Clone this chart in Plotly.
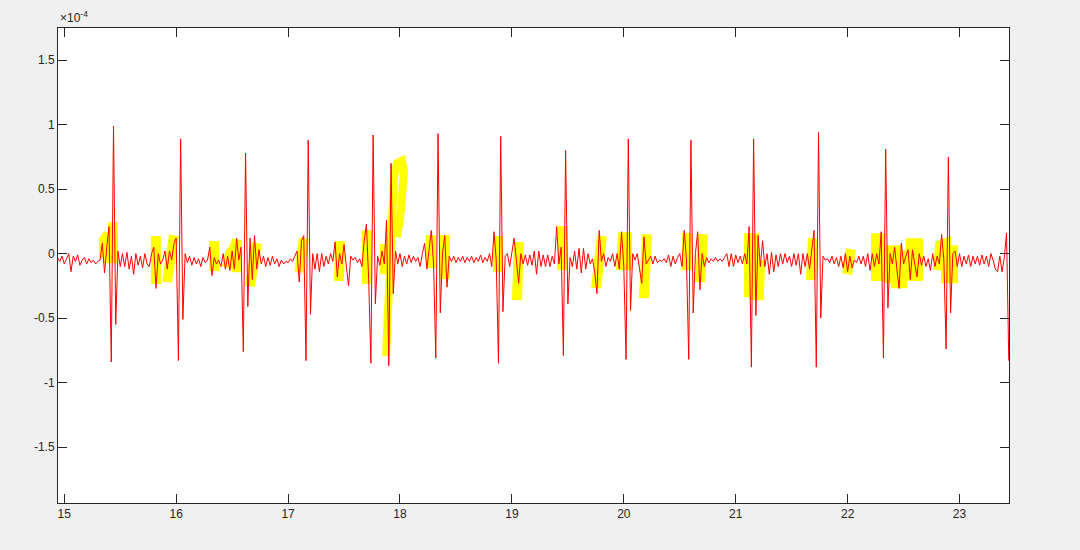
import plotly.graph_objects as go

# ---- data (signal in units of 1e-4), sampled every 0.02 s starting at 14.94 s ----
t_start = 14.94
t_step = 0.02
ecg = [
    -0.03, -0.06, -0.02, -0.08, -0.04, 0.00, -0.14, -0.02, -0.06, -0.01,   # 14.94
    -0.09, -0.05, -0.03, -0.08, -0.04, -0.07, -0.05, -0.08, -0.06, -0.05,  # 15.14
    0.08, -0.15, 0.05, 0.21, -0.84, 0.99, -0.55, 0.02, -0.10, 0.00,        # 15.34
    -0.10, 0.01, -0.12, -0.02, -0.16, 0.00, -0.09, -0.02, -0.11, 0.00,     # 15.54
    -0.08, -0.10, 0.00, 0.05, -0.27, 0.00, -0.08, -0.05, 0.02, -0.12,      # 15.74
    0.02, -0.05, 0.08, 0.12, -0.83, 0.89, -0.51, 0.00, -0.07, -0.02,       # 15.94
    -0.09, -0.03, -0.08, -0.04, -0.10, -0.03, -0.07, -0.05, 0.05, -0.17,   # 16.14
    -0.03, -0.08, -0.05, -0.10, 0.00, -0.12, -0.02, -0.13, 0.02, -0.12,    # 16.34
    0.12, -0.05, 0.05, -0.76, 0.78, -0.41, 0.12, -0.20, 0.14, -0.12,       # 16.54
    0.03, -0.08, -0.02, -0.10, -0.03, -0.09, -0.02, -0.08, -0.04, -0.10,   # 16.74
    -0.05, -0.08, -0.06, -0.07, -0.04, -0.06, -0.02, 0.02, -0.22, 0.10,    # 16.94
    0.14, -0.83, 0.88, -0.47, 0.00, -0.12, 0.00, -0.14, 0.00, -0.10,       # 17.14
    -0.02, -0.08, 0.00, -0.06, 0.09, -0.18, 0.00, -0.08, 0.07, -0.10,      # 17.34
    -0.25, -0.02, -0.05, -0.03, -0.07, -0.04, -0.10, 0.10, 0.23, -0.20,    # 17.54
    -0.85, 0.92, -0.39, -0.02, -0.09, 0.02, -0.08, 0.26, -0.87, 0.70,      # 17.74
    -0.31, 0.02, -0.08, 0.00, -0.10, -0.02, -0.08, -0.01, -0.07, -0.02,    # 17.94
    -0.06, -0.03, -0.10, 0.00, 0.08, -0.12, 0.05, 0.18, -0.08, -0.81,      # 18.14
    0.93, -0.46, 0.00, 0.14, -0.26, -0.02, -0.06, -0.02, -0.07, -0.03,     # 18.34
    -0.06, -0.02, -0.07, -0.03, -0.06, -0.02, -0.07, -0.03, -0.06, -0.01,  # 18.54
    -0.07, -0.03, -0.06, 0.00, -0.10, 0.17, -0.05, -0.85, 0.91, -0.45,     # 18.74
    -0.02, 0.00, -0.10, 0.00, 0.12, -0.05, -0.23, 0.00, -0.08, -0.01,      # 18.94
    -0.09, -0.01, -0.09, 0.02, -0.16, 0.02, -0.10, -0.01, -0.10, -0.01,    # 19.14
    -0.10, -0.02, -0.08, 0.21, -0.08, 0.05, -0.79, 0.80, -0.39, -0.03,     # 19.34
    -0.10, 0.02, -0.12, 0.04, -0.15, 0.04, -0.12, 0.00, -0.08, -0.04,      # 19.54
    -0.14, -0.31, 0.18, -0.06, 0.00, -0.10, -0.03, -0.06, 0.00, -0.10,     # 19.74
    0.00, -0.12, 0.17, -0.10, -0.82, 0.89, -0.44, 0.00, -0.05, 0.00,       # 19.94
    -0.10, -0.23, 0.13, -0.08, -0.05, -0.02, -0.08, -0.02, -0.07, -0.05,   # 20.14
    -0.06, -0.04, -0.07, -0.01, -0.10, -0.02, -0.08, -0.03, 0.00, -0.10,   # 20.34
    0.18, -0.05, -0.82, 0.88, -0.46, 0.00, 0.17, -0.28, 0.00, -0.10,       # 20.54
    -0.03, -0.07, -0.04, -0.06, -0.03, -0.06, -0.04, -0.06, -0.03, 0.00,   # 20.74
    -0.10, 0.00, -0.10, -0.01, -0.07, -0.02, -0.08, 0.00, -0.08, 0.21,     # 20.94
    -0.88, 0.89, -0.48, 0.14, -0.10, 0.10, -0.10, 0.00, -0.16, 0.01,       # 21.14
    -0.14, -0.01, -0.10, 0.00, -0.08, 0.00, -0.07, -0.02, -0.10, 0.00,     # 21.34
    -0.09, 0.00, -0.16, 0.00, -0.10, 0.00, -0.12, 0.05, 0.18, -0.88,       # 21.54
    0.94, -0.50, -0.02, -0.05, -0.04, -0.07, -0.02, -0.08, -0.03, -0.10,   # 21.74
    -0.02, -0.11, 0.00, -0.14, -0.02, -0.11, -0.05, -0.07, -0.02, -0.08,   # 21.94
    -0.02, -0.10, 0.00, -0.13, 0.00, -0.10, 0.00, -0.08, 0.17, -0.81,      # 22.14
    0.81, -0.42, 0.00, -0.08, 0.05, -0.12, -0.27, 0.08, -0.08, -0.02,      # 22.34
    0.03, -0.20, 0.03, -0.08, -0.18, 0.00, -0.09, -0.02, -0.10, -0.04,     # 22.54
    -0.13, 0.00, -0.10, -0.02, -0.08, 0.15, -0.05, -0.74, 0.75, -0.46,     # 22.74
    0.00, 0.02, -0.10, 0.00, -0.10, -0.02, -0.08, -0.01, -0.10, -0.02,     # 22.94
    -0.08, -0.02, -0.09, -0.01, -0.08, -0.02, -0.10, 0.00, -0.05, -0.12,   # 23.14
    -0.14, -0.02, -0.14, -0.03, 0.16, -0.83,                               # 23.34
]
t = [round(t_start + i * t_step, 2) for i in range(len(ecg))]

# highlighted (yellow) segments: times and values (units of 1e-4)
yellow_t = [
    [15.355, 15.355, 15.391, 15.391, 15.435, 15.435],
    [15.819, 15.819],
    [15.918, 15.980],
    [16.338, 16.338],
    [16.454, 16.481, 16.517, 16.543, 16.543, 16.499],
    [16.660, 16.722],
    [17.102, 17.142],
    [17.455, 17.464],
    [17.705, 17.705],
    [17.866, 17.866],
    [18.277, 18.277],
    [18.402, 18.402],
    [18.876, 18.876],
    [19.063, 19.045],
    [19.448, 19.457],
    [19.752, 19.769, 19.805],
    [19.975, 19.993, 20.029, 20.029],
    [20.207, 20.198, 20.180],
    [20.565, 20.565],
    [20.681, 20.690, 20.708],
    [21.119, 21.119, 21.164, 21.164, 21.208, 21.217],
    [21.673, 21.691],
    [21.995, 22.030],
    [22.254, 22.254, 22.298, 22.298],
    [22.379, 22.379, 22.433, 22.433, 22.487, 22.487],
    [22.567, 22.567, 22.629, 22.629],
    [22.808, 22.826, 22.880, 22.880, 22.942, 22.942],
]
yellow_y = [
    [-0.035, 0.105, 0.151, -0.035, -0.035, 0.244],
    [0.136, -0.236],
    [-0.221, 0.143],
    [0.097, -0.136],
    [-0.105, 0.004, 0.035, 0.105, -0.105, -0.105],
    [-0.252, 0.081],
    [-0.143, 0.120],
    [-0.213, 0.097],
    [-0.236, 0.182],
    [-0.159, 0.074],
    [-0.112, 0.143],
    [-0.198, 0.143],
    [-0.143, 0.136],
    [0.089, -0.360],
    [-0.128, 0.213],
    [-0.267, -0.066, 0.136],
    [-0.128, 0.128, 0.128, -0.128],
    [0.151, -0.128, -0.345],
    [-0.128, 0.159],
    [-0.221, 0.027, 0.151],
    [-0.337, 0.120, 0.120, -0.322, -0.322, -0.050],
    [-0.205, 0.120],
    [-0.159, 0.035],
    [-0.213, 0.120, 0.120, -0.213],
    [-0.229, 0.027, 0.027, -0.229, -0.229, 0.027],
    [-0.213, 0.081, 0.081, -0.213],
    [-0.128, 0.066, 0.081, -0.190, -0.190, 0.066],
]
# the looping highlighted stroke near 18 s
loop_t = [17.875, 17.902, 17.929, 17.946, 17.973, 18.018, 18.036, 18.027, 18.009, 17.991, 17.973]
loop_y = [-0.795, -0.360, 0.182, 0.585, 0.702, 0.720, 0.640, 0.480, 0.340, 0.221, 0.128]

x_ticks = [15, 16, 17, 18, 19, 20, 21, 22, 23]
y_ticks = [-1.5, -1, -0.5, 0, 0.5, 1, 1.5]
y_tick_text = ["-1.5", "-1", "-0.5", "0", "0.5", "1", "1.5"]

yt, yy = [], []
for st, sy in zip(yellow_t, yellow_y):
    yt += st + [None]
    yy += sy + [None]

fig = go.Figure()
fig.add_trace(go.Scatter(x=yt, y=yy, mode="lines",
                         line=dict(color="#ffff00", width=10), hoverinfo="skip"))
fig.add_trace(go.Scatter(x=loop_t, y=loop_y, mode="lines",
                         line=dict(color="#ffff00", width=8), hoverinfo="skip"))
fig.add_trace(go.Scatter(x=t, y=ecg, mode="lines",
                         line=dict(color="#ff0000", width=1)))

axis_common = dict(
    showgrid=False, zeroline=False, showline=True, linecolor="#262626", linewidth=1,
    mirror="ticks", ticks="inside", ticklen=9, tickcolor="#262626", tickwidth=1,
    tickfont=dict(family="Liberation Sans, Arial, sans-serif", size=12, color="#262626"),
)
fig.update_xaxes(range=[14.944, 23.442], tickvals=x_ticks, **axis_common)
fig.update_yaxes(range=[-1.934, 1.75], tickvals=y_ticks, ticktext=y_tick_text, **axis_common)

fig.add_annotation(xref="paper", yref="paper", x=0, y=1, xanchor="left", yanchor="bottom",
                   yshift=1, showarrow=False, text="\u00d710<sup>-4</sup>",
                   font=dict(family="Liberation Sans, Arial, sans-serif", size=12, color="#262626"))

fig.update_layout(
    width=1080, height=550,
    margin=dict(l=58, r=71, t=28, b=47),
    paper_bgcolor="#f0f0f0", plot_bgcolor="#ffffff",
    showlegend=False,
)
fig.write_html(
    "out.html",
    config={"displayModeBar": False},
    post_script="document.body.style.margin='0';document.body.style.background='#f0f0f0';",
)
